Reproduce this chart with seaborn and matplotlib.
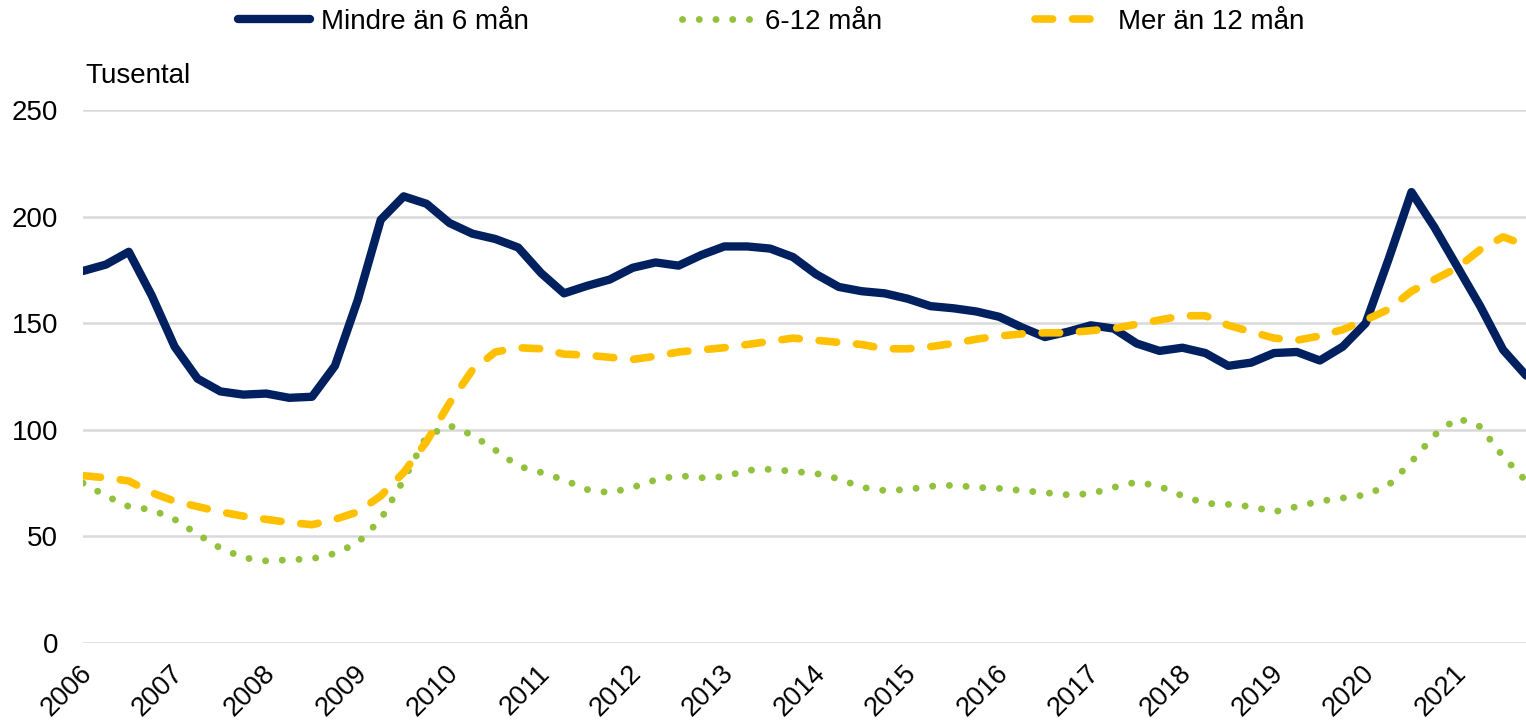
import numpy as np
import pandas as pd
import matplotlib
matplotlib.use("Agg")
import matplotlib.pyplot as plt
import matplotlib.transforms as mtransforms
import seaborn as sns

# quarterly data, 2006Q1 - 2021Q4 (tusental)
quarters = pd.period_range("2006Q1", "2021Q4", freq="Q").astype(str).tolist()
year_labels = [str(y) for y in range(2006, 2022)]

under_6 = [174.5, 177.5, 183.5, 163, 139, 124, 118, 116.5, 117, 115, 115.5, 130,
           161, 198.5, 209.5, 206, 197, 192, 189.5, 185.5, 173.5, 164, 167.5, 170.5,
           176, 178.5, 177, 182, 186, 186, 185, 181, 173, 167, 165, 164,
           161.5, 158, 157, 155.5, 153, 148, 143.5, 146, 149, 147.5, 140.5, 137,
           138.5, 136, 130, 131.5, 136, 136.5, 132.5, 139, 150, 180, 211.5, 195,
           176.5, 158, 137.5, 125.5]
m6_12 = [75, 69, 64, 62.5, 58, 51, 44.5, 40, 38.5, 39, 39.5, 42,
         47, 58, 76.5, 97, 102, 97.5, 90.5, 83, 80, 76.5, 72, 70.5,
         73, 76.5, 78.5, 77.5, 78, 81, 81.5, 80.5, 79.5, 77, 73, 71.5,
         72, 73.5, 74, 73, 72.5, 71.5, 70.5, 69.5, 70, 73, 75.5, 73.5,
         69, 65.5, 65, 64, 61.5, 64, 66.5, 68, 69.5, 74, 85, 97.5,
         105.5, 101.5, 87.5, 76]
over_12 = [78.5, 77.5, 76, 70.5, 66.5, 64, 61.5, 59.5, 58, 56.5, 55.5, 58,
           61.5, 69, 80, 94.5, 112.5, 128, 136.5, 138.5, 138, 135.5, 135, 134,
           133, 134.5, 136.5, 137.5, 138.5, 140, 141.5, 143, 142, 141, 140, 138,
           138, 139, 140.5, 142.5, 144, 145, 145.5, 145.5, 146.5, 147.5, 149.5, 151.5,
           153.5, 153.5, 149, 146, 143, 142, 144, 147, 151.5, 156.5, 165, 170.5,
           176, 184.5, 190.5, 186.5]

labels = ["Mindre än 6 mån", "6-12 mån", "Mer än 12 mån"]
colors = ["#002060", "#92C13E", "#FFC000"]

sns.set_style("white")
plt.rcParams["font.family"] = ["Liberation Sans", "DejaVu Sans"]
plt.rcParams["text.color"] = "black"
plt.rcParams["xtick.color"] = "black"
plt.rcParams["ytick.color"] = "black"

fig = plt.figure(figsize=(15.26, 7.24), dpi=100)
ax = fig.add_axes([83 / 1526, 81 / 724, (1526 - 83) / 1526, 533 / 724])

x = np.arange(len(quarters))
df = pd.DataFrame({"x": x, labels[0]: under_6, labels[1]: m6_12, labels[2]: over_12})

# navy solid
sns.lineplot(data=df, x="x", y=labels[0], ax=ax, color=colors[0], linewidth=6,
             label=labels[0], solid_capstyle="round", solid_joinstyle="round")
# green dotted
sns.lineplot(data=df, x="x", y=labels[1], ax=ax, color=colors[1], linewidth=5,
             label=labels[1])
ax.lines[-1].set_dashes((0.01, 2.4))
ax.lines[-1].set_dash_capstyle("round")
# yellow dashed
sns.lineplot(data=df, x="x", y=labels[2], ax=ax, color=colors[2], linewidth=5.5,
             label=labels[2])
ax.lines[-1].set_dashes((2.3, 2.6))
ax.lines[-1].set_dash_capstyle("round")

ax.set_xlim(0, len(quarters) - 1)
ax.set_ylim(0, 250)
ax.set_yticks(range(0, 251, 50))
ax.yaxis.grid(True, color="#D9D9D9", linewidth=1.8)
ax.set_axisbelow(True)
for s in ax.spines.values():
    s.set_visible(False)

ax.set_xticks(x[::4])
ax.set_xticklabels(year_labels, rotation=45, ha="right", va="center",
                   rotation_mode="anchor")
ax.tick_params(axis="x", length=0, pad=19, labelsize=19.5, labelcolor="black")
ax.tick_params(axis="y", length=0, pad=18, labelsize=20, labelcolor="black")
shift = mtransforms.ScaledTranslation(5 / 100, 0, fig.dpi_scale_trans)
for lab in ax.get_xticklabels():
    lab.set_transform(lab.get_transform() + shift)
ax.set_xlabel("")
ax.set_ylabel("")

fig.text(85 / 1526, 1 - 76 / 724, "Tusental", fontsize=20, va="center", ha="left",
         color="black")

handles, lbls = ax.get_legend_handles_labels()
ax.get_legend().remove()
leg = fig.legend(handles, lbls, loc="center", bbox_to_anchor=(771 / 1526, 1 - 22 / 724),
                 ncol=3, frameon=False, fontsize=20, handlelength=2.6,
                 handletextpad=0.4, columnspacing=5.5)
for t in leg.get_texts():
    t.set_color("black")

fig.savefig("out.png", dpi=100)
